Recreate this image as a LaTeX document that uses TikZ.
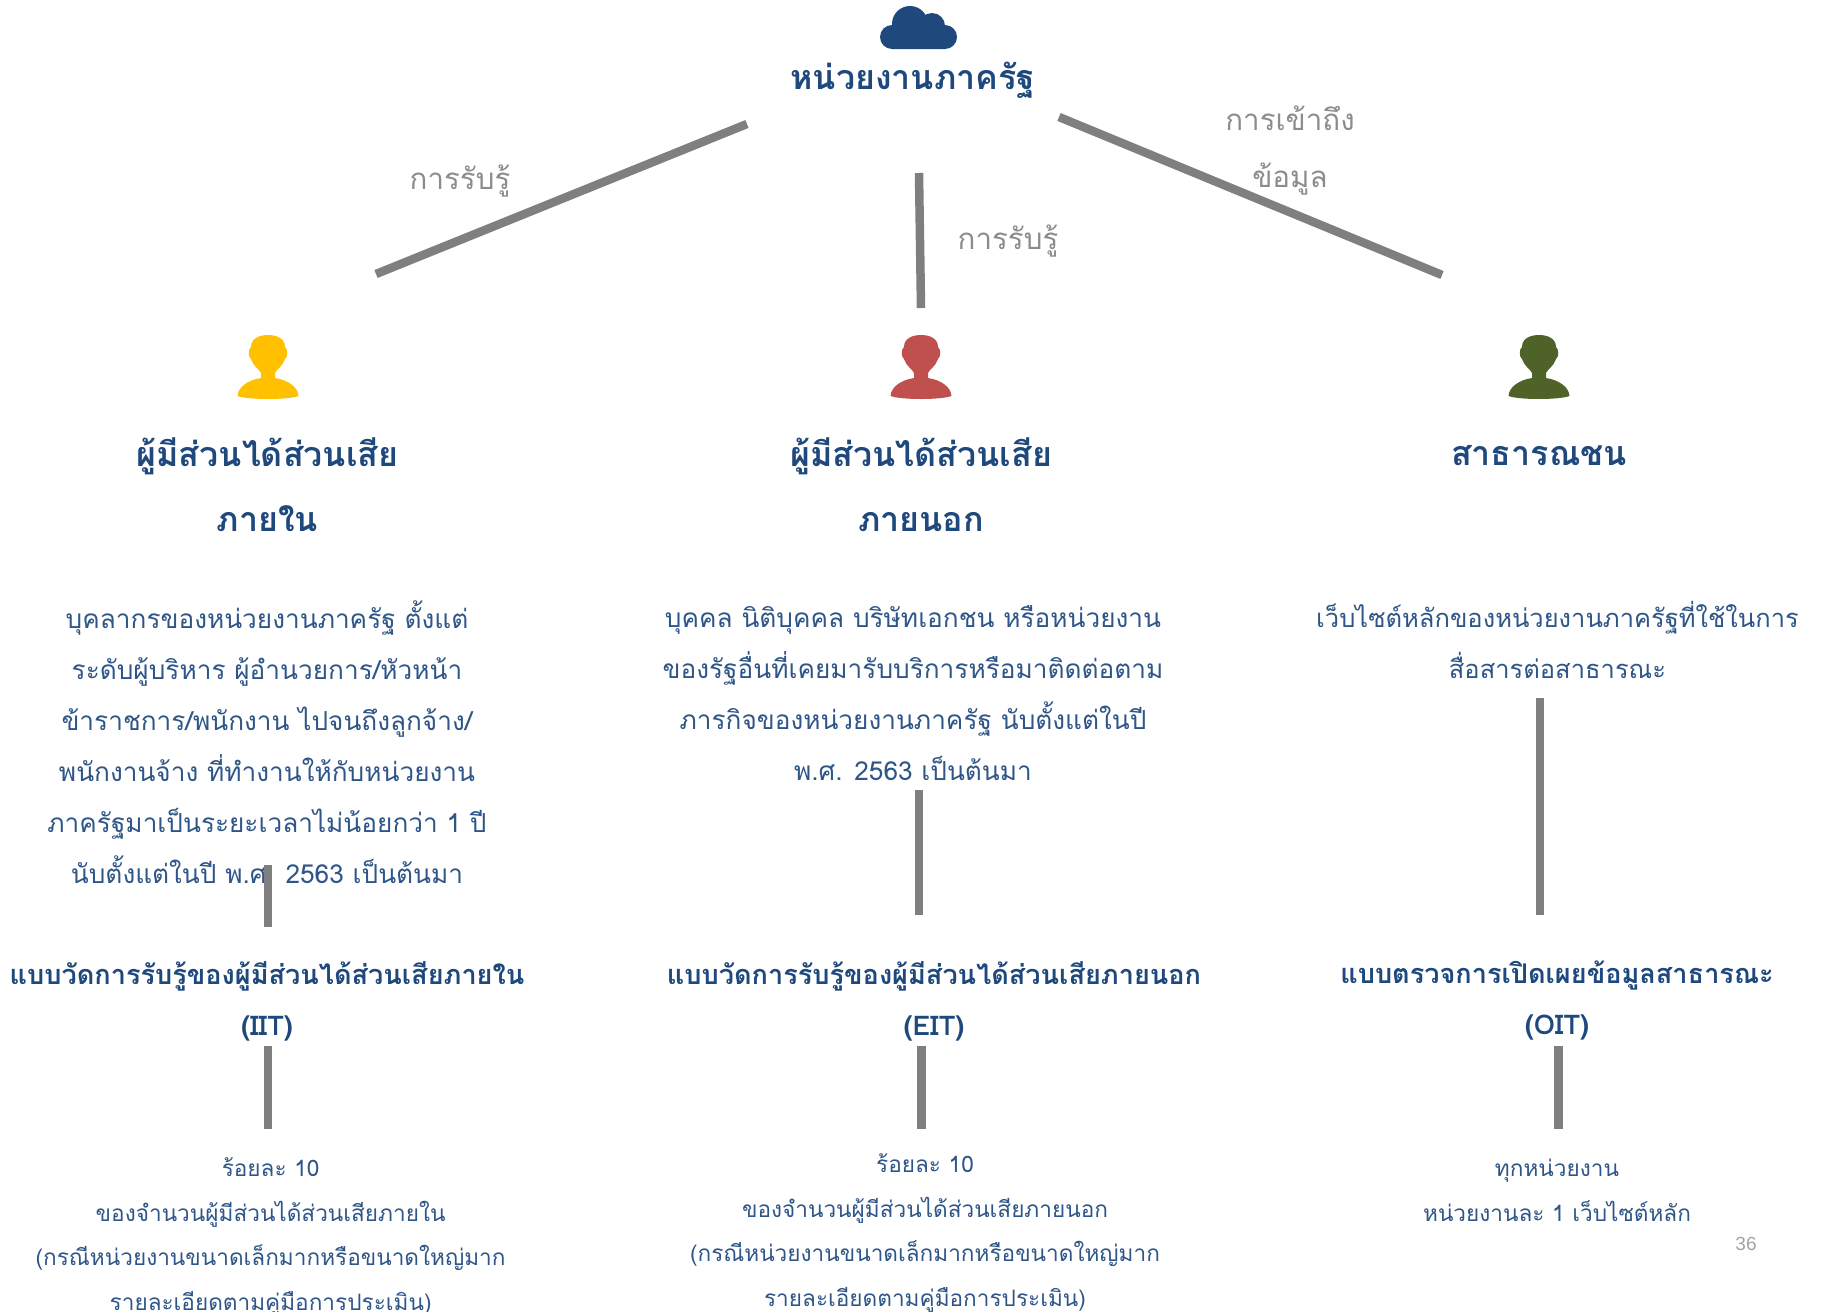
\documentclass[tikz,border=0pt]{standalone}
\usepackage{fontspec}
\setmainfont[Script=Thai]{Loma}
\setsansfont{Liberation Sans}
\definecolor{navy}{HTML}{1F497D}
\definecolor{thinnavy}{HTML}{2F5688}
\definecolor{bar}{HTML}{7F7F7F}
\definecolor{lab}{HTML}{8C8C8C}
\tikzset{
  x=1pt,y=-1pt,
  barline/.style={draw=bar,line width=8.5pt},
  title/.style={text=navy,align=center,inner sep=0pt,font=\bfseries\fontsize{34}{65}\selectfont},
  measure/.style={text=navy,align=center,inner sep=0pt,font=\bfseries\fontsize{27.1}{51}\selectfont},
  body/.style={text=thinnavy,align=center,inner sep=0pt,font=\fontsize{26.2}{51}\selectfont},
  bodyright/.style={text=thinnavy,align=center,inner sep=0pt,font=\fontsize{25.5}{51}\selectfont},
  small/.style={text=thinnavy,align=center,inner sep=0pt,font=\fontsize{22.6}{44.7}\selectfont},
  edgelabel/.style={text=lab,align=center,inner sep=0pt,font=\fontsize{29.5}{57}\selectfont},
  person/.pic={
    \fill[pic actions] (-17,12) .. controls (-17,3) and (-8,0) .. (0,0) .. controls (8,0) and (17,3) .. (17,12)
      .. controls (20,14) and (20,22) .. (17,24) .. controls (15,31) and (8,35) .. (7,38) -- (7,43)
      .. controls (20,45) and (30,52) .. (30.5,61) .. controls (20,65) and (-20,65) .. (-30.5,61)
      .. controls (-30,52) and (-20,45) .. (-7,43) -- (-7,38) .. controls (-8,35) and (-15,31) .. (-17,24)
      .. controls (-20,22) and (-20,14) .. (-17,12) -- cycle;
  }
}
\begin{document}
\begin{tikzpicture}
\useasboundingbox (0,0) rectangle (1821,1312);
% cloud
\fill[navy,rounded corners=12pt] (880,25) rectangle (957,49);
\fill[navy] (910,24) circle (18);
\fill[navy] (932,26) circle (13);
% people
\pic[fill={rgb,255:red,255;green,192;blue,0}] at (268,335) {person};
\pic[fill={rgb,255:red,192;green,80;blue,77}] at (921,335) {person};
\pic[fill={rgb,255:red,79;green,98;blue,40}] at (1539,335) {person};
% texts
\node[title] (top) at (913,80) {หน่วยงานภาครัฐ};
\node[title] (hl) at (267.5,484.5) {ผู้มีส่วนได้ส่วนเสีย\\ภายใน};
\node[title] (hm) at (921,484.5) {ผู้มีส่วนได้ส่วนเสีย\\ภายนอก};
\node[title] (hr) at (1539,456) {สาธารณชน};
\node[body] (bl) at (267,742) {บุคลากรของหน่วยงานภาครัฐ ตั้งแต่\\ระดับผู้บริหาร ผู้อำนวยการ/หัวหน้า\\ข้าราชการ/พนักงาน ไปจนถึงลูกจ้าง/\\พนักงานจ้าง ที่ทำงานให้กับหน่วยงาน\\ภาครัฐมาเป็นระยะเวลาไม่น้อยกว่า 1 ปี\\นับตั้งแต่ในปี พ.ศ. 2563 เป็นต้นมา};
\node[body] (bm) at (913,693.5) {บุคคล นิติบุคคล บริษัทเอกชน หรือหน่วยงาน\\ของรัฐอื่นที่เคยมารับบริการหรือมาติดต่อตาม\\ภารกิจของหน่วยงานภาครัฐ นับตั้งแต่ในปี\\พ.ศ. 2563 เป็นต้นมา};
\node[bodyright] (br) at (1557.5,640) {เว็บไซต์หลักของหน่วยงานภาครัฐที่ใช้ในการ\\สื่อสารต่อสาธารณะ};
\node[measure] (ml) at (267,1001) {แบบวัดการรับรู้ของผู้มีส่วนได้ส่วนเสียภายใน\\(IIT)};
\node[measure] (mm) at (934,1001) {แบบวัดการรับรู้ของผู้มีส่วนได้ส่วนเสียภายนอก\\(EIT)};
\node[measure] (mr) at (1557,1001) {แบบตรวจการเปิดเผยข้อมูลสาธารณะ\\(OIT)};
\node[small] (sl) at (270.6,1237) {ร้อยละ 10\\ของจำนวนผู้มีส่วนได้ส่วนเสียภายใน\\(กรณีหน่วยงานขนาดเล็กมากหรือขนาดใหญ่มาก\\รายละเอียดตามคู่มือการประเมิน)};
\node[small] (sm) at (925,1233) {ร้อยละ 10\\ของจำนวนผู้มีส่วนได้ส่วนเสียภายนอก\\(กรณีหน่วยงานขนาดเล็กมากหรือขนาดใหญ่มาก\\รายละเอียดตามคู่มือการประเมิน)};
\node[small] (sr) at (1557,1190) {ทุกหน่วยงาน\\หน่วยงานละ 1 เว็บไซต์หลัก};
\node[edgelabel] (e1) at (460,181) {การรับรู้};
\node[edgelabel] (e2) at (1008,241) {การรับรู้};
\node[edgelabel] (e3) at (1290,151) {การเข้าถึง\\ข้อมูล};
\node[text=lab!80,inner sep=0pt,font=\sffamily\fontsize{19}{22}\selectfont] (pg) at (1746,1244) {36};
% connector ends
\coordinate (a1) at (747,124); \coordinate (a2) at (376,274);
\coordinate (b1) at (919,173); \coordinate (b2) at (921,308);
\coordinate (c1) at (1059,117); \coordinate (c2) at (1442,275);
\coordinate (d1) at (268,865); \coordinate (d2) at (268,927);
\coordinate (f1) at (919,790); \coordinate (f2) at (919,915);
\coordinate (g1) at (1540,698); \coordinate (g2) at (1540,915);
\coordinate (h1) at (268,1046); \coordinate (h2) at (268,1129);
\coordinate (i1) at (921.5,1046); \coordinate (i2) at (921.5,1129);
\coordinate (j1) at (1558.5,1046); \coordinate (j2) at (1558.5,1129);
\foreach \p/\q in {a1/a2,b1/b2,c1/c2,d1/d2,f1/f2,g1/g2,h1/h2,i1/i2,j1/j2}
  \draw[barline] (\p) -- (\q);
\end{tikzpicture}
\end{document}
